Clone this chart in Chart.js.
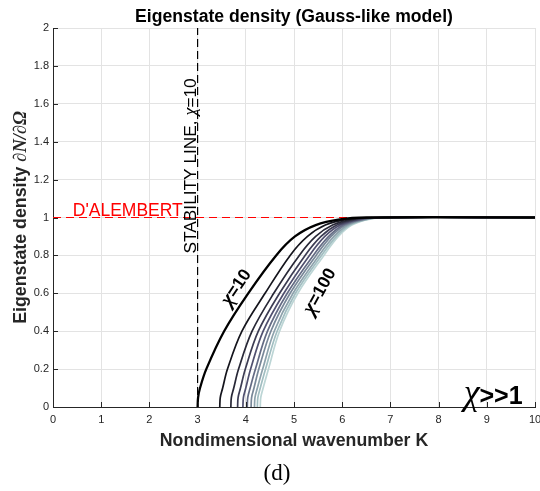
<!DOCTYPE html>
<html>
<head>
<meta charset="utf-8">
<script src="https://cdn.jsdelivr.net/npm/chart.js@4.4.1/dist/chart.umd.min.js"></script>
<style>
  html, body { margin: 0; padding: 0; background: #fff; }
  canvas { display: block; }
</style>
</head>
<body>
<canvas id="densityChart" width="540" height="491"></canvas>
<script>
// density levels shared by every curve (last entry carries the plateau out to K = 10)
const densityLevels = [0, 0.05, 0.1, 0.2, 0.4, 0.6, 0.8, 0.9, 0.96, 0.99, 1, 1];

// wavenumber K where each chi curve reaches the level above
const kChi10  = [3.00, 3.01, 3.05, 3.18, 3.55, 4.05, 4.63, 5.02, 5.45, 5.95, 6.50, 10];
const kChi20  = [3.46, 3.47, 3.52, 3.62, 3.92, 4.40, 4.92, 5.28, 5.65, 6.10, 6.60, 10];
const kChi30  = [3.69, 3.70, 3.75, 3.85, 4.13, 4.58, 5.11, 5.45, 5.80, 6.22, 6.71, 10];
const kChi40  = [3.83, 3.84, 3.89, 3.99, 4.26, 4.70, 5.23, 5.56, 5.89, 6.30, 6.78, 10];
const kChi50  = [3.94, 3.95, 4.00, 4.10, 4.36, 4.79, 5.32, 5.64, 5.96, 6.36, 6.83, 10];
const kChi60  = [4.03, 4.04, 4.09, 4.20, 4.45, 4.86, 5.40, 5.72, 6.02, 6.41, 6.87, 10];
const kChi70  = [4.11, 4.12, 4.17, 4.27, 4.52, 4.92, 5.46, 5.77, 6.07, 6.45, 6.91, 10];
const kChi80  = [4.18, 4.19, 4.24, 4.35, 4.59, 4.98, 5.52, 5.83, 6.12, 6.49, 6.94, 10];
const kChi90  = [4.24, 4.25, 4.30, 4.41, 4.65, 5.03, 5.57, 5.88, 6.16, 6.52, 6.97, 10];
const kChi100 = [4.30, 4.31, 4.36, 4.47, 4.70, 5.08, 5.62, 5.92, 6.20, 6.55, 7.00, 10];

const chiValues = [10, 20, 30, 40, 50, 60, 70, 80, 90, 100];
const chiCurves = [kChi10, kChi20, kChi30, kChi40, kChi50, kChi60, kChi70, kChi80, kChi90, kChi100];

// reference lines
const stabilityK = [3, 3];
const stabilityDensity = [0, 2];
const dalembertK = [0, 10];
const dalembertDensity = [1, 1];

// ticks
const xTickValues = [0, 1, 2, 3, 4, 5, 6, 7, 8, 9, 10];
const xTickLabels = ['0', '1', '2', '3', '4', '5', '6', '7', '8', '9', '10'];
const yTickValues = [0, 0.2, 0.4, 0.6, 0.8, 1, 1.2, 1.4, 1.6, 1.8, 2];
const yTickLabels = ['0', '0.2', '0.4', '0.6', '0.8', '1', '1.2', '1.4', '1.6', '1.8', '2'];

// bone colormap, dark to light
const curveColors = ['#000000', '#14141c', '#282837', '#3c3c53', '#50506f',
                     '#646b84', '#788798', '#8da2ac', '#a1bec1', '#bcd5d5'];

const SANS = '"Liberation Sans", Arial, sans-serif';
const SERIF = '"Liberation Serif", "Times New Roman", serif';
const AXIS_INK = '#262626';

function toPoints(xs, ys) {
  return xs.map((k, i) => ({ x: k, y: ys[i] }));
}

function drawRuns(ctx, runs, x, y, align) {
  let total = 0;
  runs.forEach(r => { ctx.font = r[1]; total += ctx.measureText(r[0]).width; });
  let cx = align === 'center' ? x - total / 2 : x;
  ctx.textAlign = 'left';
  runs.forEach(r => {
    ctx.font = r[1];
    ctx.fillText(r[0], cx, y);
    cx += ctx.measureText(r[0]).width;
  });
}

const curveSets = chiCurves.map((ks, i) => ({
  label: 'chi=' + chiValues[i],
  data: toPoints(ks, densityLevels),
  borderColor: curveColors[i],
  borderWidth: i === 0 ? 2.3 : 1.7,
  showLine: true,
  pointRadius: 0,
  fill: false,
  tension: 0.35
}));

const textLayer = {
  id: 'textLayer',
  afterDraw(chart) {
    const { ctx, chartArea: area, scales: { x, y } } = chart;
    ctx.save();

    // inward tick marks like matlab
    ctx.strokeStyle = AXIS_INK;
    ctx.lineWidth = 1;
    ctx.beginPath();
    xTickValues.forEach(v => {
      const px = Math.round(x.getPixelForValue(v)) + 0.5;
      ctx.moveTo(px, area.bottom);
      ctx.lineTo(px, area.bottom - 5);
    });
    yTickValues.forEach(v => {
      const py = Math.round(y.getPixelForValue(v)) + 0.5;
      ctx.moveTo(area.left, py);
      ctx.lineTo(area.left + 5, py);
    });
    ctx.stroke();

    ctx.textBaseline = 'alphabetic';

    // title
    ctx.fillStyle = '#000';
    drawRuns(ctx, [['Eigenstate density (Gauss-like model)', 'bold 17.6px ' + SANS]],
      (area.left + area.right) / 2, 21.5, 'center');

    // x axis title
    ctx.fillStyle = AXIS_INK;
    drawRuns(ctx, [['Nondimensional wavenumber K', 'bold 17.7px ' + SANS]],
      (area.left + area.right) / 2, 445.5, 'center');

    // y axis title
    ctx.save();
    ctx.translate(26, (area.top + area.bottom) / 2);
    ctx.rotate(-Math.PI / 2);
    drawRuns(ctx, [
      ['Eigenstate density ', 'bold 17.8px ' + SANS],
      ['\u2202N/\u2202\u03A9', 'italic bold 18.5px ' + SERIF]
    ], 0, 0, 'center');
    ctx.restore();

    // D'ALEMBERT
    ctx.fillStyle = '#ff0000';
    drawRuns(ctx, [["D'ALEMBERT", '17.5px ' + SANS]],
      x.getPixelForValue(0.41), y.getPixelForValue(1) - 1.5, 'left');

    // stability line label
    ctx.fillStyle = '#000';
    ctx.save();
    ctx.translate(x.getPixelForValue(3) - 1.5, y.getPixelForValue(0.81));
    ctx.rotate(-Math.PI / 2);
    drawRuns(ctx, [
      ['STABILITY LINE, ', '17.3px ' + SANS],
      ['\u03C7', 'italic 18px ' + SERIF],
      ['=10', '17.3px ' + SANS]
    ], 0, 0, 'left');
    ctx.restore();

    // chi labels along the curves
    ctx.textBaseline = 'middle';
    [[3.81, 0.63, -56, '=10'], [5.54, 0.61, -61, '=100']].forEach(([k, d, ang, txt]) => {
      ctx.save();
      ctx.translate(x.getPixelForValue(k), y.getPixelForValue(d));
      ctx.rotate(ang * Math.PI / 180);
      drawRuns(ctx, [
        ['\u03C7', 'italic bold 21px ' + SERIF],
        [txt, 'bold 17.5px ' + SANS]
      ], 0, 0, 'center');
      ctx.restore();
    });

    // chi >> 1
    ctx.textBaseline = 'alphabetic';
    drawRuns(ctx, [
      ['\u03C7', 'italic 36px ' + SERIF],
      ['>>1', 'bold 25px ' + SANS]
    ], x.getPixelForValue(8.52), area.bottom - 3, 'left');

    // panel tag
    drawRuns(ctx, [['(d)', '23px ' + SERIF]], 277, 480, 'center');

    ctx.restore();
  }
};

const densityChart = new Chart(document.getElementById('densityChart'), {
  type: 'scatter',
  data: {
    datasets: curveSets.concat([
      {
        label: 'stability',
        data: toPoints(stabilityK, stabilityDensity),
        borderColor: '#000',
        borderWidth: 1.2,
        borderDash: [8, 4],
        showLine: true,
        pointRadius: 0
      },
      {
        label: 'dalembert',
        data: toPoints(dalembertK, dalembertDensity),
        borderColor: '#ff0000',
        borderWidth: 1.2,
        borderDash: [8, 5],
        showLine: true,
        pointRadius: 0
      }
    ])
  },
  options: {
    responsive: false,
    animation: false,
    devicePixelRatio: 1,
    layout: { padding: { left: 0, right: 5, top: 28, bottom: 0 } },
    plugins: {
      legend: { display: false },
      tooltip: { enabled: false }
    },
    scales: {
      x: {
        type: 'linear',
        min: 0,
        max: 10,
        afterFit: s => { s.height = 84; s.paddingLeft = 0; s.paddingRight = 0; },
        afterBuildTicks: s => { s.ticks = xTickValues.map(v => ({ value: v })); },
        ticks: {
          autoSkip: false,
          maxRotation: 0,
          padding: 6,
          color: AXIS_INK,
          font: { family: SANS, size: 11 },
          callback: (v, i) => xTickLabels[i]
        },
        grid: { color: '#e3e3e3', drawTicks: false },
        border: { color: AXIS_INK, width: 1 }
      },
      y: {
        type: 'linear',
        min: 0,
        max: 2,
        afterFit: s => { s.width = 53; s.paddingTop = 0; s.paddingBottom = 0; },
        afterBuildTicks: s => { s.ticks = yTickValues.map(v => ({ value: v })); },
        ticks: {
          autoSkip: false,
          padding: 4,
          color: AXIS_INK,
          font: { family: SANS, size: 11 },
          callback: (v, i) => yTickLabels[i]
        },
        grid: { color: '#e3e3e3', drawTicks: false },
        border: { color: AXIS_INK, width: 1 }
      }
    }
  },
  plugins: [textLayer]
});
</script>
</body>
</html>
